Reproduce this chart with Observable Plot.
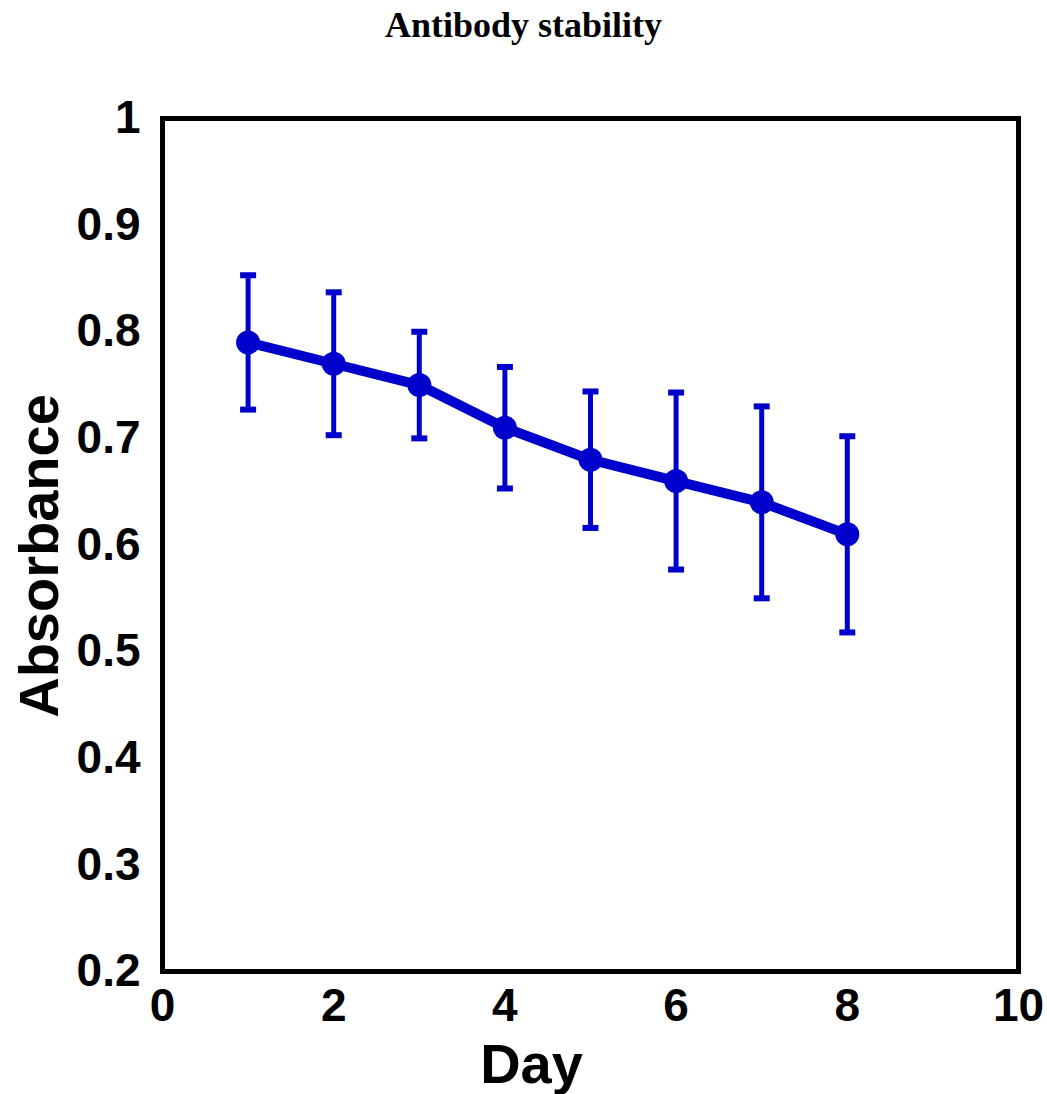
<!DOCTYPE html>
<html>
<head>
<meta charset="utf-8">
<script src="https://cdn.jsdelivr.net/npm/d3@7"></script>
<script src="https://cdn.jsdelivr.net/npm/@observablehq/plot@0.6"></script>
<style>
  html, body { margin: 0; padding: 0; background: white; }
  #title { height: 60px; box-sizing: border-box; padding-top: 7px; line-height: 36px;
           font-family: "Liberation Serif", "Times New Roman", serif; font-weight: bold;
           font-size: 36px; text-align: center; width: 1047px; }
</style>
</head>
<body>
<div id="title">Antibody stability</div>
<div id="chart"></div>
<script>
const titleText = "Antibody stability";
const xLabel = "Day";
const yLabel = "Absorbance";
const days = [1, 2, 3, 4, 5, 6, 7, 8];
const absorbance = [0.79, 0.77, 0.75, 0.71, 0.68, 0.66, 0.64, 0.61];
const errors = [0.063, 0.067, 0.05, 0.057, 0.064, 0.083, 0.09, 0.092];
const xTicks = [0, 2, 4, 6, 8, 10];
const yTicks = [0.2, 0.3, 0.4, 0.5, 0.6, 0.7, 0.8, 0.9, 1];

document.getElementById("title").textContent = titleText;

const blue = "#0000cc";
const data = days.map((d, i) => ({
  day: d,
  mean: absorbance[i],
  lo: absorbance[i] - errors[i],
  hi: absorbance[i] + errors[i]
}));

const capSymbol = {
  draw(context) {
    context.moveTo(-8, 0);
    context.lineTo(8, 0);
  }
};

const chart = Plot.plot({
  width: 1047,
  height: 1034,
  marginLeft: 162,
  marginRight: 29,
  marginTop: 58,
  marginBottom: 123,
  style: {
    fontFamily: "'Liberation Sans', Arial, sans-serif",
    fontWeight: "bold",
    fontSize: "46px",
    color: "black",
    background: "white"
  },
  x: {domain: [0, 10], ticks: xTicks, tickSize: 0, tickPadding: 17, label: null, tickFormat: d => String(d)},
  y: {domain: [0.2, 1], ticks: yTicks, tickSize: 0, tickPadding: 22, label: null, tickFormat: d => String(d)},
  marks: [
    Plot.ruleX(data, {x: "day", y1: "lo", y2: "hi", stroke: blue, strokeWidth: 5}),
    Plot.dot(data, {x: "day", y: "hi", symbol: capSymbol, stroke: blue, strokeWidth: 6, fill: "none"}),
    Plot.dot(data, {x: "day", y: "lo", symbol: capSymbol, stroke: blue, strokeWidth: 6, fill: "none"}),
    Plot.line(data, {x: "day", y: "mean", stroke: blue, strokeWidth: 10, strokeLinejoin: "round"}),
    Plot.dot(data, {x: "day", y: "mean", r: 12, fill: blue, stroke: "none"}),
    Plot.frame({stroke: "black", strokeWidth: 5}),
    Plot.text([yLabel], {text: d => d, frameAnchor: "left", dx: -105, dy: 11, rotate: -90,
      lineAnchor: "bottom", textAnchor: "middle", fontSize: 56, fontWeight: "bold", fill: "black"}),
    Plot.text([xLabel], {text: d => d, frameAnchor: "bottom", dx: -59, dy: 111,
      lineAnchor: "bottom", textAnchor: "middle", fontSize: 56, fontWeight: "bold", fill: "black"})
  ]
});
document.getElementById("chart").appendChild(chart);
</script>
</body>
</html>
